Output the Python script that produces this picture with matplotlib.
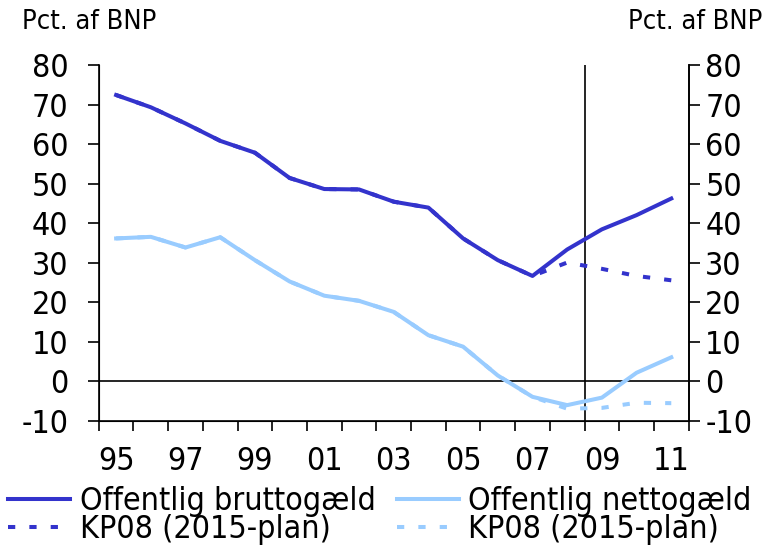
import numpy as np
import matplotlib
matplotlib.use("Agg")
import matplotlib.pyplot as plt

plt.rcParams["font.family"] = ["DejaVu Sans"]
plt.rcParams["font.stretch"] = "condensed"
plt.rcParams["axes.unicode_minus"] = False

years = np.arange(1995, 2012)
brutto = [72.4, 69.3, 65.2, 60.8, 57.8, 51.4, 48.6, 48.5, 45.4, 43.9,
          36.1, 30.6, 26.6, 33.3, 38.4, 42.0, 46.2]
netto = [36.1, 36.5, 33.8, 36.4, 30.6, 25.2, 21.6, 20.3, 17.5, 11.6,
         8.7, 1.4, -4.0, -6.1, -4.2, 2.1, 6.0]
kp08_brutto = [72.4, 69.3, 65.2, 60.8, 57.8, 51.4, 48.6, 48.5, 45.4, 43.9,
               36.1, 30.6, 26.6, 30.0, 28.4, 26.6, 25.5]
kp08_netto = [36.1, 36.5, 33.8, 36.4, 30.6, 25.2, 21.6, 20.3, 17.5, 11.6,
              8.7, 1.4, -4.0, -7.0, -6.8, -5.5, -5.6]

yticks = np.arange(-10, 81, 10)
label_years = np.arange(1995, 2012, 2)
label_text = [f"{y % 100:02d}" for y in label_years]

dark = "#3333cc"
light = "#99ccff"

fig = plt.figure(figsize=(7.76, 5.49), dpi=100)
ax = fig.add_axes([0.1273, 0.234, 0.7601, 0.6476])

ax.axhline(0, color="black", lw=1.2, zorder=1)
ax.axvline(2008.5, color="black", lw=1.2, zorder=1)

l1, = ax.plot(years, brutto, color=dark, lw=2.9, label="Offentlig bruttogæld", zorder=3)
l2, = ax.plot(years, netto, color=light, lw=2.9, label="Offentlig nettogæld", zorder=3)
l3, = ax.plot(years, kp08_brutto, color=dark, lw=2.9, dashes=(1.8, 3.5),
              label="KP08 (2015-plan)", zorder=4)
l4, = ax.plot(years, kp08_netto, color=light, lw=2.9, dashes=(1.8, 3.5),
              label="KP08 (2015-plan)", zorder=4)

ax.set_xlim(1994.5, 2011.5)
ax.set_ylim(-10, 80)
ax.set_yticks(yticks)
ax.set_xticks(np.arange(1994.5, 2012, 1))
ax.set_xticklabels([])
ax.set_xticks(label_years, minor=True)
ax.set_xticklabels(label_text, minor=True)

ax.spines["top"].set_visible(False)
for side in ["left", "right", "bottom"]:
    ax.spines[side].set_linewidth(1.2)

ax.tick_params(axis="y", direction="out", length=8, width=1.2, labelsize=23,
               left=True, right=False, pad=14)
ax.tick_params(axis="x", which="major", direction="out", length=7, width=1.2)
ax.tick_params(axis="x", which="minor", length=0, labelsize=23, pad=18)

# right-hand axis with the same scale
ax2 = ax.twinx()
ax2.set_ylim(ax.get_ylim())
ax2.set_yticks(yticks)
ax2.spines["top"].set_visible(False)
ax2.spines["right"].set_linewidth(1.2)
ax2.tick_params(axis="y", direction="out", length=8, width=1.2, labelsize=23, pad=4)

fig.text(0.028, 0.96, "Pct. af BNP", fontsize=19.5, ha="left", va="center")
fig.text(0.982, 0.96, "Pct. af BNP", fontsize=19.5, ha="right", va="center")

fig.legend(handles=[l1, l3, l2, l4], loc="lower left", bbox_to_anchor=(0.0, -0.008),
           ncol=2, frameon=False, fontsize=23, handlelength=1.95, handletextpad=0.3,
           columnspacing=0.65, labelspacing=-0.08, borderaxespad=0.0, borderpad=0.25)

fig.savefig("out.png", dpi=100)
